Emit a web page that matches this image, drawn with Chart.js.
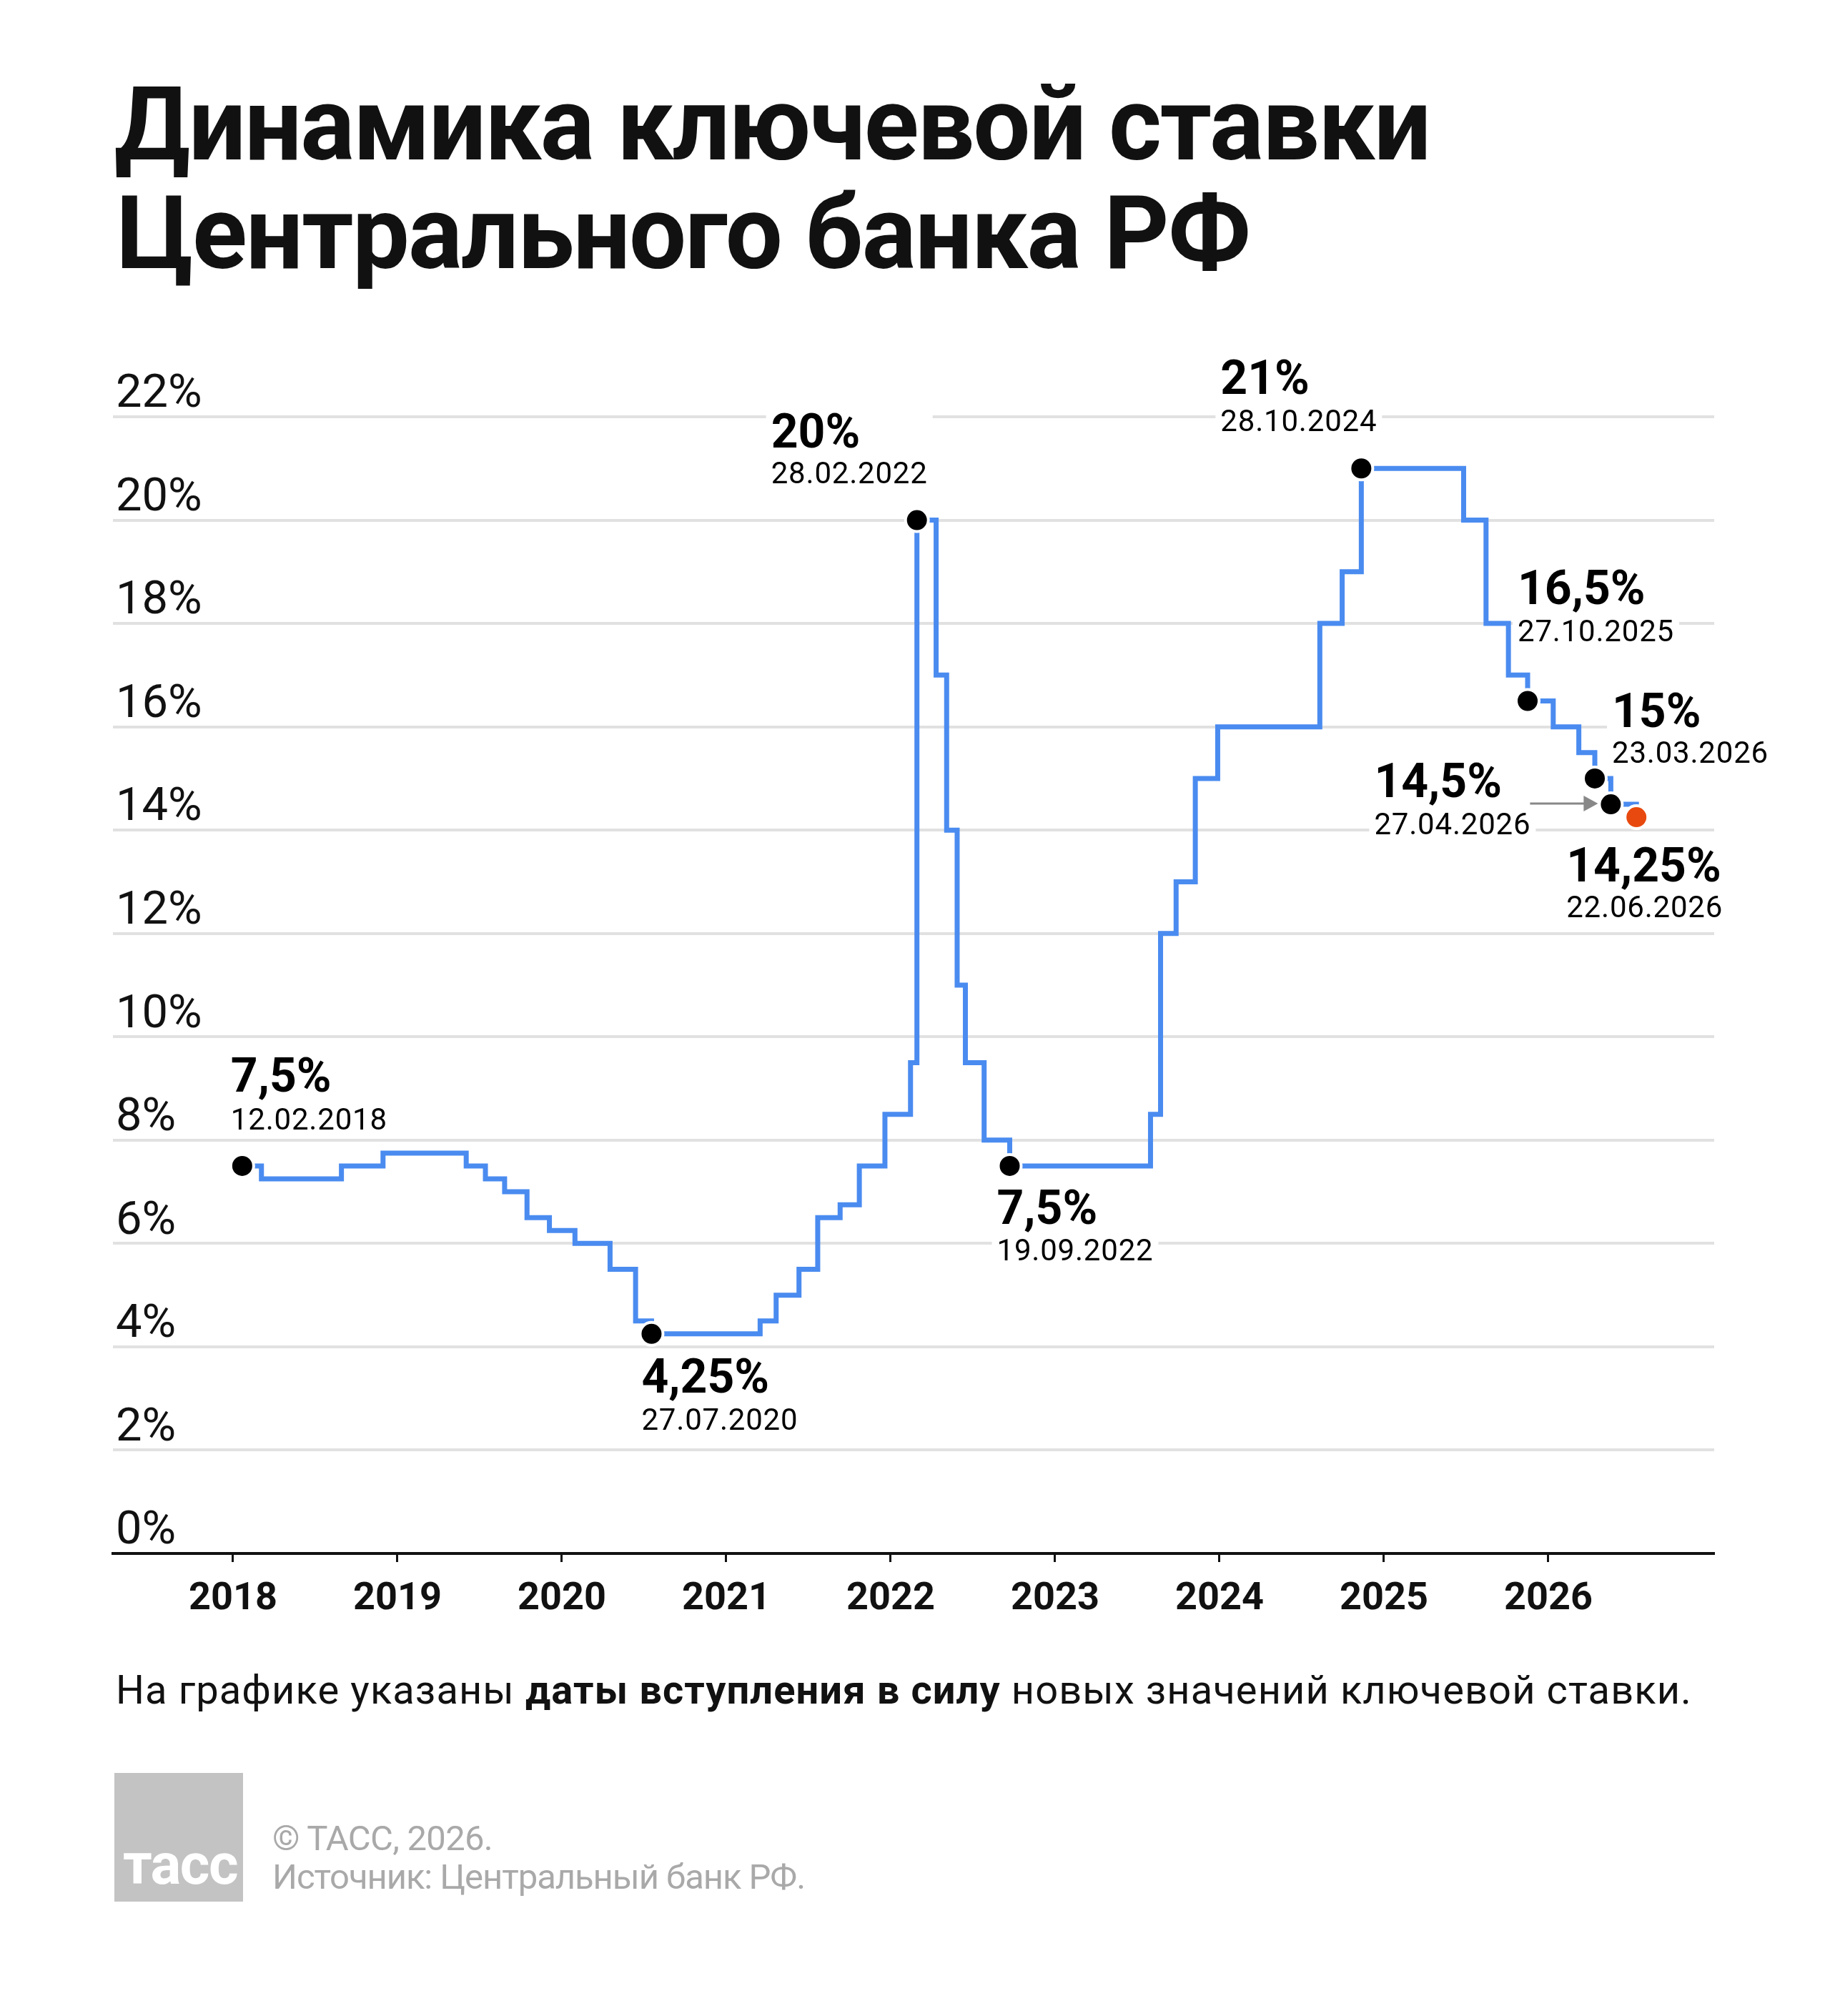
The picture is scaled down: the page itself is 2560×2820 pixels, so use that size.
<!DOCTYPE html>
<html lang="ru">
<head>
<meta charset="utf-8">
<title>Динамика ключевой ставки Центрального банка РФ</title>
<script src="https://cdn.jsdelivr.net/npm/chart.js@4.4.1/dist/chart.umd.min.js"></script>
<style>
  html, body { margin: 0; padding: 0; background: #fff; }
  body { width: 2560px; height: 2820px; position: relative; overflow: hidden; font-family: Roboto, "Noto Sans", sans-serif; color: #111; }
  .t { position: absolute; white-space: nowrap; line-height: 1; }
  .foot { color: #a9a9a9; }
  #chart { position: absolute; left: 0; top: 440px; }
  #logo { position: absolute; left: 160px; top: 2480px; width: 180px; height: 180px; background: #c3c3c3; }
</style>
</head>
<body>
<div class="t" data-left="160" data-base="224" data-size="142" data-w="1840" style="font-weight:700">Динамика ключевой ставки</div>
<div class="t" data-left="163" data-base="376" data-size="142" data-w="1585" style="font-weight:700">Центрального банка РФ</div>

<canvas id="chart" width="2560" height="1860"></canvas>

<div class="t" data-left="162" data-base="2383" data-size="56" data-w="2205">На графике указаны <b>даты вступления в силу</b> новых значений ключевой ставки.</div>

<div id="logo"></div>
<div class="t" data-left="172" data-base="2635" data-size="80" data-w="160" style="color:#fff;font-weight:700">тасс</div>
<div class="t foot" data-left="381" data-base="2588" data-size="49" data-w="308">© ТАСС, 2026.</div>
<div class="t foot" data-left="381" data-base="2642" data-size="49" data-w="745">Источник: Центральный банк РФ.</div>

<script>
// даты вступления в силу и значения ключевой ставки, %
const rateDates = [
  '2018-02-12', '2018-03-26', '2018-09-17', '2018-12-17',
  '2019-06-17', '2019-07-29', '2019-09-09', '2019-10-28', '2019-12-16',
  '2020-02-10', '2020-04-27', '2020-06-22', '2020-07-27',
  '2021-03-22', '2021-04-26', '2021-06-15', '2021-07-26', '2021-09-13', '2021-10-25', '2021-12-20',
  '2022-02-14', '2022-02-28', '2022-04-11', '2022-05-04', '2022-05-27', '2022-06-14', '2022-07-25', '2022-09-19',
  '2023-07-24', '2023-08-15', '2023-09-18', '2023-10-30', '2023-12-18',
  '2024-07-29', '2024-09-16', '2024-10-28',
  '2025-06-09', '2025-07-28', '2025-09-15', '2025-10-27', '2025-12-22',
  '2026-02-16', '2026-03-23', '2026-04-27', '2026-06-22'
];
const rateValues = [
  7.5, 7.25, 7.5, 7.75,
  7.5, 7.25, 7, 6.5, 6.25,
  6, 5.5, 4.5, 4.25,
  4.5, 5, 5.5, 6.5, 6.75, 7.5, 8.5,
  9.5, 20, 17, 14, 11, 9.5, 8, 7.5,
  8.5, 12, 13, 15, 16,
  18, 19, 21,
  20, 18, 17, 16.5, 16,
  15.5, 15, 14.5, 14.25
];

// подписанные точки
const markerDates = ['2018-02-12', '2020-07-27', '2022-02-28', '2022-09-19', '2024-10-28', '2025-10-27', '2026-03-23', '2026-04-27', '2026-06-22'];
const markerValues = [7.5, 4.25, 20, 7.5, 21, 16.5, 15, 14.5, 14.25];

// подписи осей
const yearTicks = [2018, 2019, 2020, 2021, 2022, 2023, 2024, 2025, 2026];
const percentTicks = [0, 2, 4, 6, 8, 10, 12, 14, 16, 18, 20, 22];

// смещения подписей относительно точки (px)
const labelPos = [
  { dx: -16, vy: -104, dy: -51 },
  { dx: -14, vy: 82, dy: 134 },
  { dx: -204, vy: -102, dy: -52 },
  { dx: -18, vy: 81, dy: 132 },
  { dx: -197, vy: -104, dy: -52 },
  { dx: -14, vy: -136, dy: -84 },
  { dx: 24, vy: -72, dy: -22 },
  { dx: -331, vy: -10, dy: 42, arrow: true },
  { dx: -98, vy: 90, dy: 140 }
];

// дата -> дробный год
function toYear(d) {
  var p = d.split('-').map(Number);
  var t0 = Date.UTC(p[0], 0, 1), t1 = Date.UTC(p[0] + 1, 0, 1);
  return p[0] + (Date.UTC(p[0], p[1] - 1, p[2]) - t0) / (t1 - t0);
}

// текстовые блоки страницы
document.querySelectorAll('.t').forEach(function (el) {
  var size = +el.dataset.size;
  el.style.fontSize = size + 'px';
  el.style.left = el.dataset.left + 'px';
  el.style.top = (el.dataset.base - 0.8418 * size) + 'px';
  if (el.dataset.w) {
    var w = el.getBoundingClientRect().width;
    var n = Array.from(el.textContent).length;
    el.style.letterSpacing = ((el.dataset.w - w) / n) + 'px';
  }
});

var valueFont = 'bold 66px Roboto';
var dateFont = '42px Roboto';
var dateSpacing = '0.8px';

// белые плашки под подписями и сами подписи
var rateLabels = {
  id: 'rateLabels',
  _items: function (chart) {
    var xs = chart.scales.xd, ys = chart.scales.y, ctx = chart.ctx;
    ctx.save();
    var items = markerDates.map(function (d, i) {
      var pos = labelPos[i];
      var value = String(markerValues[i]).replace('.', ',') + '%';
      var date = d.split('-').reverse().join('.');
      ctx.letterSpacing = '0px';
      ctx.font = valueFont;
      var wv = ctx.measureText(value).width;
      ctx.font = dateFont;
      ctx.letterSpacing = dateSpacing;
      var wd = ctx.measureText(date).width;
      return {
        px: xs.getPixelForValue(toYear(d)),
        py: ys.getPixelForValue(markerValues[i]),
        pos: pos, value: value, date: date, w: Math.max(wv, wd)
      };
    });
    ctx.restore();
    return items;
  },
  beforeDatasetsDraw: function (chart) {
    var ctx = chart.ctx;
    ctx.save();
    ctx.fillStyle = '#fff';
    this._items(chart).forEach(function (it) {
      var x = it.px + it.pos.dx - 7;
      var top = it.py + it.pos.vy - 55;
      var bottom = it.py + it.pos.dy + 9;
      ctx.fillRect(x, top, it.w + 14, bottom - top);
    });
    ctx.restore();
  },
  afterDatasetsDraw: function (chart) {
    var ctx = chart.ctx;
    var items = this._items(chart);
    ctx.save();
    ctx.textAlign = 'left';
    ctx.textBaseline = 'alphabetic';
    items.forEach(function (it) {
      var x = it.px + it.pos.dx;
      ctx.fillStyle = '#000';
      ctx.letterSpacing = '0px';
      ctx.font = valueFont;
      ctx.fillText(it.value, x, it.py + it.pos.vy);
      ctx.font = dateFont;
      ctx.letterSpacing = dateSpacing;
      ctx.fillText(it.date, x, it.py + it.pos.dy);
      if (it.pos.arrow) {
        var y = it.py - 1;
        ctx.strokeStyle = '#888';
        ctx.fillStyle = '#888';
        ctx.lineWidth = 3;
        ctx.beginPath();
        ctx.moveTo(it.px - 113, y);
        ctx.lineTo(it.px - 36, y);
        ctx.stroke();
        ctx.beginPath();
        ctx.moveTo(it.px - 18, y);
        ctx.lineTo(it.px - 38, y - 11);
        ctx.lineTo(it.px - 38, y + 11);
        ctx.closePath();
        ctx.fill();
      }
    });
    ctx.restore();
  }
};

var ctx = document.getElementById('chart').getContext('2d');
var chart = new Chart(ctx, {
  type: 'line',
  data: {
    datasets: [
      {
        data: markerDates.map(function (d, i) { return { x: toYear(d), y: markerValues[i] }; }),
        xAxisID: 'xd',
        yAxisID: 'y',
        showLine: false,
        pointRadius: 16,
        pointBorderWidth: 4,
        pointBorderColor: '#fff',
        pointBackgroundColor: markerDates.map(function (d, i) { return i === markerDates.length - 1 ? '#e8490f' : '#000'; }),
        clip: false,
        order: 1
      },
      {
        data: rateDates.map(function (d, i) { return { x: toYear(d), y: rateValues[i] }; }),
        xAxisID: 'xd',
        yAxisID: 'y',
        stepped: true,
        borderColor: '#4a8bf0',
        borderWidth: 7,
        borderJoinStyle: 'miter',
        pointRadius: 0,
        fill: false,
        order: 2
      }
    ]
  },
  options: {
    responsive: false,
    devicePixelRatio: 1,
    animation: false,
    events: [],
    layout: { autoPadding: false, padding: { left: 158, right: 162, top: 143, bottom: 0 } },
    plugins: { legend: { display: false }, tooltip: { enabled: false } },
    scales: {
      x: {
        type: 'linear',
        position: 'bottom',
        min: 2017.270,
        max: 2027.009,
        afterBuildTicks: function (s) { s.ticks = yearTicks.map(function (v) { return { value: v }; }); },
        afterFit: function (s) { s.height = 127; },
        grid: { drawOnChartArea: false, drawTicks: true, tickLength: 12, tickWidth: 3, tickColor: '#111' },
        border: { display: true, color: '#111', width: 4 },
        ticks: {
          autoSkip: false,
          maxRotation: 0,
          padding: 20,
          color: '#111',
          font: { family: 'Roboto', weight: 'bold', size: 54 },
          callback: function (v) { return String(v); }
        }
      },
      xd: { type: 'linear', display: false, min: 2017.3402, max: 2026.9374 },
      y: {
        position: 'left',
        min: 0,
        max: 22,
        afterBuildTicks: function (s) { s.ticks = percentTicks.map(function (v) { return { value: v }; }); },
        afterFit: function (s) { s.width = 0; },
        grid: { color: '#e1e1e1', lineWidth: 4, drawTicks: false },
        border: { display: false },
        ticks: {
          mirror: true,
          padding: 4,
          labelOffset: -30,
          color: '#111',
          font: { family: 'Roboto', size: 65 },
          callback: function (v) { return v + '%'; }
        }
      }
    }
  },
  plugins: [rateLabels]
});
</script>
</body>
</html>
